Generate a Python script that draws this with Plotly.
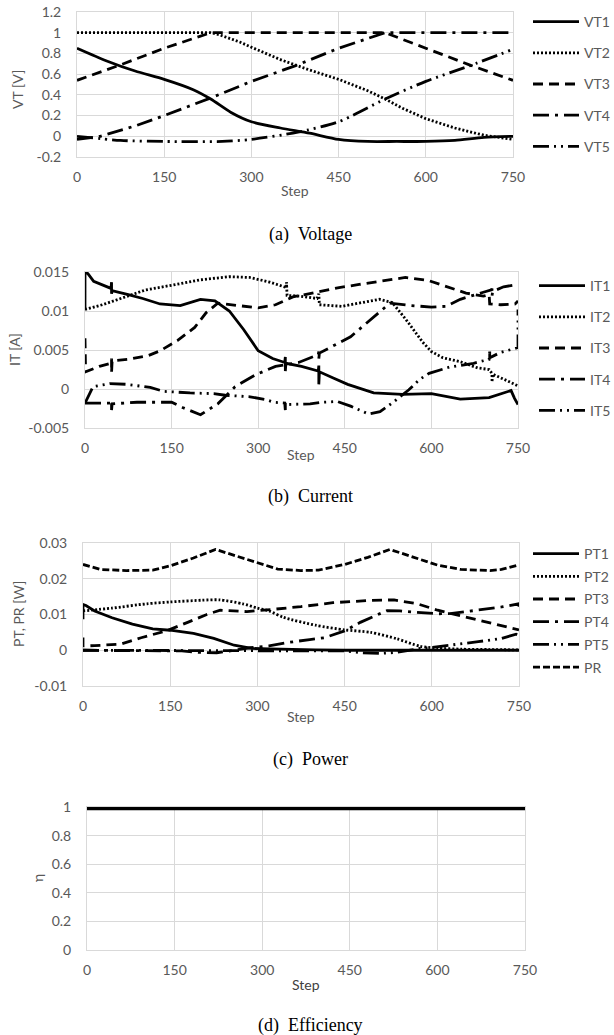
import plotly.graph_objects as go

# ---------------- data ----------------
# (a) Voltage
vt1_step = [0, 50, 100, 150, 200, 230, 265, 300, 350, 400, 450, 500, 550, 600, 650, 700, 750]
vt1_val = [0.85, 0.73, 0.63, 0.55, 0.45, 0.36, 0.23, 0.14, 0.08, 0.03, -0.03, -0.05, -0.05, -0.05, -0.04, -0.01, 0.0]
vt2_step = [0, 230, 245, 260, 280, 300, 350, 400, 450, 500, 530, 560, 600, 650, 700, 750]
vt2_val = [1.0, 1.0, 0.98, 0.95, 0.91, 0.86, 0.74, 0.64, 0.55, 0.44, 0.36, 0.27, 0.17, 0.08, 0.01, -0.03]
vt3_step = [0, 75, 150, 230, 530, 600, 675, 750]
vt3_val = [0.54, 0.69, 0.85, 1.0, 1.0, 0.85, 0.69, 0.54]
vt4_step = [0, 40, 100, 150, 230, 300, 375, 450, 530, 750]
vt4_val = [-0.03, 0.0, 0.1, 0.2, 0.37, 0.53, 0.68, 0.85, 1.0, 1.0]
vt5_step = [0, 75, 150, 250, 300, 380, 450, 530, 600, 675, 750]
vt5_val = [0.0, -0.04, -0.05, -0.05, -0.03, 0.04, 0.14, 0.36, 0.53, 0.68, 0.84]

# (b) Current
it1_step = [0, 0, 5, 15, 45, 46, 46, 47, 75, 100, 130, 165, 200, 225, 250, 275, 300, 325, 346, 347, 347, 348,
            375, 404, 405, 405, 406, 430, 455, 500, 550, 600, 650, 700, 738, 744, 750]
it1_val = [0.0102, 0.0150, 0.0148, 0.0138, 0.0129, 0.0137, 0.0122, 0.0126, 0.0121, 0.0116, 0.0109, 0.0107, 0.0115,
           0.0113, 0.0100, 0.0076, 0.0049, 0.0039, 0.0034, 0.0041, 0.0023, 0.0033, 0.0029, 0.0023, 0.0030, 0.0006,
           0.0022, 0.0014, 0.0006, -0.0005, -0.0007, -0.0006, -0.0013, -0.0011, -0.0002, -0.0012, -0.0020]
it2_step = [0, 30, 50, 75, 105, 150, 200, 250, 285, 320, 344, 349, 349, 350, 373, 402, 405, 405, 406, 445, 480,
            510, 532, 555, 585, 600, 620, 650, 680, 700, 705, 705, 706, 730, 750]
it2_val = [0.0102, 0.0108, 0.0113, 0.0119, 0.0127, 0.0133, 0.0140, 0.0144, 0.0143, 0.0137, 0.0132, 0.0130, 0.0137,
           0.0120, 0.0119, 0.0116, 0.0122, 0.0110, 0.0108, 0.0106, 0.0111, 0.0115, 0.0111, 0.0090, 0.0060, 0.0048,
           0.0040, 0.0035, 0.0027, 0.0025, 0.0020, 0.0009, 0.0019, 0.0011, 0.0004]
it3_step = [0, 1, 25, 45, 46, 46, 47, 75, 110, 130, 160, 190, 210, 230, 265, 300, 330, 360, 400, 440, 475, 520,
            555, 595, 625, 660, 690, 700, 701, 720, 745, 750]
it3_val = [0.0065, 0.0022, 0.0029, 0.0033, 0.0039, 0.0021, 0.0036, 0.0038, 0.0043, 0.0049, 0.0062, 0.0079, 0.0098,
           0.0110, 0.0107, 0.0104, 0.0108, 0.0118, 0.0124, 0.0130, 0.0134, 0.0139, 0.0143, 0.0139, 0.0132, 0.0123,
           0.0119, 0.0121, 0.0109, 0.0108, 0.0109, 0.0113]
it4_step = [0, 25, 45, 46, 46, 47, 90, 150, 170, 200, 230, 245, 260, 295, 330, 370, 404, 405, 405, 406, 460, 490,
            528, 565, 600, 625, 650, 690, 704, 705, 705, 706, 725, 750]
it4_val = [-0.0018, -0.0018, -0.0018, -0.0015, -0.0027, -0.0019, -0.0017, -0.0017, -0.0024, -0.0033, -0.0019,
           -0.0008, 0.0003, 0.0018, 0.0029, 0.0034, 0.0044, 0.0048, 0.0039, 0.0046, 0.0067, 0.0086, 0.0110, 0.0107,
           0.0105, 0.0106, 0.0115, 0.0124, 0.0127, 0.0129, 0.0119, 0.0125, 0.0131, 0.0134]
it5_step = [0, 14, 43, 72, 113, 136, 182, 223, 243, 286, 315, 327, 346, 347, 347, 348, 390, 410, 437, 460, 491,
            511, 532, 561, 579, 596, 631, 673, 700, 701, 701, 720, 745, 750, 750]
it5_val = [-0.0018, 0.0003, 0.0007, 0.0006, 0.0002, -0.0003, -0.0005, -0.0006, -0.0008, -0.0010, -0.0014, -0.0017,
           -0.0018, -0.0027, -0.0018, -0.0020, -0.0019, -0.0017, -0.0016, -0.0022, -0.0032, -0.0029, -0.0018,
           -0.0001, 0.0012, 0.0020, 0.0028, 0.0033, 0.0038, 0.0048, 0.0040, 0.0047, 0.0052, 0.0053, 0.0102]

# (c) Power
pt1_step = [0, 0, 5, 20, 50, 85, 120, 150, 190, 225, 260, 290, 320, 360, 400, 450, 500, 600, 750]
pt1_val = [0.0087, 0.0128, 0.0125, 0.0110, 0.0091, 0.0073, 0.0060, 0.0056, 0.0047, 0.0033, 0.0014, 0.0005, 0.0004,
           0.0002, 0.0001, 0.0, 0.0, 0.0, 0.0]
pt2_step = [0, 50, 110, 150, 205, 235, 275, 300, 320, 345, 400, 450, 495, 540, 580, 610, 650, 700, 750]
pt2_val = [0.0110, 0.0118, 0.0130, 0.0135, 0.0140, 0.0141, 0.0130, 0.0118, 0.0110, 0.0092, 0.0070, 0.0057, 0.0050,
           0.0032, 0.0011, 0.0006, 0.0003, 0.0002, 0.0001]
pt3_step = [0, 0, 20, 65, 100, 145, 180, 213, 236, 282, 330, 375, 430, 490, 535, 575, 610, 665, 710, 750]
pt3_val = [0.0036, 0.0012, 0.0013, 0.0017, 0.0035, 0.0055, 0.0078, 0.0100, 0.0112, 0.0108, 0.0115, 0.0122, 0.0133,
           0.0139, 0.0141, 0.0130, 0.0112, 0.0090, 0.0073, 0.0057]
pt4_step = [0, 100, 170, 200, 230, 260, 288, 320, 350, 390, 415, 450, 477, 523, 545, 575, 610, 635, 680, 720, 750, 750]
pt4_val = [0.0, 0.0, -0.0002, -0.0006, -0.0007, 0.0, 0.0007, 0.0012, 0.0021, 0.0030, 0.0035, 0.0054, 0.0078, 0.0111,
           0.0110, 0.0106, 0.0102, 0.0103, 0.0112, 0.0121, 0.0130, 0.0122]
pt5_step = [0, 100, 200, 300, 400, 450, 480, 510, 540, 560, 580, 600, 640, 680, 720, 745, 750]
pt5_val = [0.0, 0.0, 0.0, 0.0, 0.0, -0.0002, -0.0007, -0.0009, -0.0006, 0.0, 0.0005, 0.0008, 0.0015, 0.0024, 0.0033,
           0.0045, 0.0042]
pr_step = [0, 30, 75, 120, 150, 190, 228, 270, 305, 335, 375, 405, 450, 490, 528, 575, 610, 650, 700, 720, 750]
pr_val = [0.0240, 0.0226, 0.0223, 0.0224, 0.0236, 0.0258, 0.0282, 0.0260, 0.0241, 0.0227, 0.0223, 0.0224, 0.0240,
          0.0260, 0.0282, 0.0257, 0.0238, 0.0226, 0.0223, 0.0226, 0.0239]

# (d) Efficiency
eta_step = [0, 175, 180, 270, 275, 480, 485, 575, 580, 750]
eta_val = [0.993, 0.993, 0.99, 0.99, 0.993, 0.993, 0.99, 0.99, 0.993, 0.993]

# tick labels
x_ticks = [0, 150, 300, 450, 600, 750]
x_ticktext = ["0", "150", "300", "450", "600", "750"]
va_ticks = [-0.2, 0, 0.2, 0.4, 0.6, 0.8, 1.0, 1.2]
va_ticktext = ["-0.2", "0", "0.2", "0.4", "0.6", "0.8", "1", "1.2"]
ib_ticks = [-0.005, 0, 0.005, 0.01, 0.015]
ib_ticktext = ["-0.005", "0", "0.005", "0.01", "0.015"]
pc_ticks = [-0.01, 0, 0.01, 0.02, 0.03]
pc_ticktext = ["-0.01", "0", "0.01", "0.02", "0.03"]
ed_ticks = [0, 0.2, 0.4, 0.6, 0.8, 1.0]
ed_ticktext = ["0", "0.2", "0.4", "0.6", "0.8", "1"]

captions = ["(a)\u00a0 Voltage", "(b)\u00a0 Current", "(c)\u00a0 Power", "(d)\u00a0 Efficiency"]

# ---------------- figure ----------------
W, H = 614, 1035
GRID = "#d9d9d9"
TXT = "#595959"
FONT = "Lato"

def fx(p):
    return p / W

def fy(p):
    return 1 - p / H

# panel geometry in pixels: (left, right, top, bottom)
geo = {
    1: (77, 513, 12, 157),
    2: (85, 518, 272, 428),
    3: (83, 519, 543, 686),
    4: (87, 525, 807, 950),
}

DOT = "2px,2px"
DASH = "10px,6px"
LDD = "16px,6px,3px,6px"
LDDD = "16px,5px,2px,5px,2px,5px"
SDASH = "7px,3px"
LW = 2.8

fig = go.Figure()

def add(xs, ys, name, dash, n, legend, width=LW, smooth=False):
    line = dict(color="black", width=width, dash=dash)
    if smooth:
        line.update(shape="spline", smoothing=0.7)
    fig.add_trace(go.Scatter(
        x=xs, y=ys, mode="lines", name=name, line=line,
        xaxis="x" if n == 1 else f"x{n}", yaxis="y" if n == 1 else f"y{n}",
        legend=legend, legendgroup=name, showlegend=legend is not None,
    ))

add(vt1_step, vt1_val, "VT1", "solid", 1, "legend", smooth=True)
add(vt2_step, vt2_val, "VT2", DOT, 1, "legend")
add(vt3_step, vt3_val, "VT3", DASH, 1, "legend")
add(vt4_step, vt4_val, "VT4", LDD, 1, "legend")
add(vt5_step, vt5_val, "VT5", LDDD, 1, "legend", smooth=True)

add(it1_step, it1_val, "IT1", "solid", 2, "legend2")
add(it2_step, it2_val, "IT2", DOT, 2, "legend2")
add(it3_step, it3_val, "IT3", DASH, 2, "legend2")
add(it4_step, it4_val, "IT4", LDD, 2, "legend2")
add(it5_step, it5_val, "IT5", LDDD, 2, "legend2")

add(pt1_step, pt1_val, "PT1", "solid", 3, "legend3")
add(pt2_step, pt2_val, "PT2", DOT, 3, "legend3", smooth=True)
add(pt3_step, pt3_val, "PT3", DASH, 3, "legend3")
add(pt4_step, pt4_val, "PT4", LDD, 3, "legend3")
add(pt5_step, pt5_val, "PT5", LDDD, 3, "legend3")
add(pr_step, pr_val, "PR", SDASH, 3, "legend3")

fig.add_trace(go.Scatter(x=eta_step, y=eta_val, mode="lines", name="η",
                         line=dict(color="black", width=4.5), xaxis="x4", yaxis="y4", showlegend=False))

yinfo = {
    1: ([-0.2, 1.2], va_ticks, va_ticktext),
    2: ([-0.005, 0.015], ib_ticks, ib_ticktext),
    3: ([-0.01, 0.03], pc_ticks, pc_ticktext),
    4: ([0, 1.0], ed_ticks, ed_ticktext),
}

layout = dict(
    width=W, height=H, margin=dict(l=0, r=0, t=0, b=0, autoexpand=False),
    paper_bgcolor="white", plot_bgcolor="white",
    font=dict(family=FONT, size=14, color=TXT),
    annotations=[], showlegend=True,
)
for n, (l, r, t, b) in geo.items():
    xk = "xaxis" if n == 1 else f"xaxis{n}"
    yk = "yaxis" if n == 1 else f"yaxis{n}"
    ya = "y" if n == 1 else f"y{n}"
    xa = "x" if n == 1 else f"x{n}"
    rng, tv, tt = yinfo[n]
    layout[xk] = dict(domain=[fx(l), fx(r)], anchor=ya, range=[0, 750], tickvals=x_ticks, ticktext=x_ticktext,
                      showgrid=True, gridcolor=GRID, gridwidth=1, showline=True, linecolor=GRID, linewidth=1,
                      mirror=True, zeroline=False, ticks="", ticklabelstandoff=7,
                      tickfont=dict(family=FONT, size=14, color=TXT))
    layout[yk] = dict(domain=[fy(b), fy(t)], anchor=xa, range=rng, tickvals=tv, ticktext=tt,
                      showgrid=True, gridcolor=GRID, gridwidth=1, showline=True, linecolor=GRID, linewidth=1,
                      mirror=True, zeroline=False, ticks="", ticklabelstandoff=12,
                      tickfont=dict(family=FONT, size=14, color=TXT))

legend_common = dict(xanchor="left", yanchor="top", bgcolor="rgba(0,0,0,0)", borderwidth=0, itemwidth=46,
                     font=dict(family=FONT, size=14, color=TXT), itemclick=False, itemdoubleclick=False)
layout["legend"] = dict(legend_common, x=fx(528), y=fy(6), tracegroupgap=10)
layout["legend2"] = dict(legend_common, x=fx(534), y=fy(270), tracegroupgap=10)
layout["legend3"] = dict(legend_common, x=fx(528), y=fy(538), tracegroupgap=1.5)

ann = []
# y axis titles
ytitles = [("VT [V]", 18, 90), ("IT [A]", 15, 350), ("PT, PR [W]", 18, 614), ("η", 37, 878)]
for txt, x, y in ytitles:
    ann.append(dict(text=txt, x=fx(x), y=fy(y), xref="paper", yref="paper", showarrow=False, textangle=-90,
                    font=dict(family=FONT, size=14, color=TXT), xanchor="center", yanchor="middle"))
# x axis titles
xtitles = [(295, 190, TXT), (301, 455, TXT), (301, 716, TXT), (306, 984, "#404040")]
for x, y, c in xtitles:
    ann.append(dict(text="Step", x=fx(x), y=fy(y), xref="paper", yref="paper", showarrow=False,
                    font=dict(family=FONT, size=14, color=c), xanchor="center", yanchor="middle"))
# captions
cap_y = [234, 496, 759, 1025]
for txt, y in zip(captions, cap_y):
    ann.append(dict(text=txt, x=fx(310), y=fy(y), xref="paper", yref="paper", showarrow=False,
                    font=dict(family="Liberation Serif", size=18, color="black"), xanchor="center",
                    yanchor="middle"))
layout["annotations"] = ann

fig.update_layout(**layout)
fig.write_html("out.html", config={"displayModeBar": False},
               post_script="document.body.style.margin='0';document.body.style.overflow='hidden';")
